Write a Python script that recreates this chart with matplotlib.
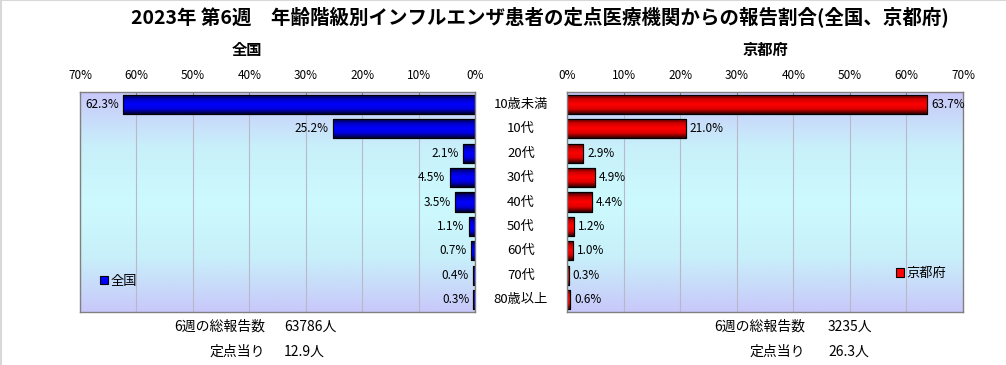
import matplotlib
matplotlib.use("Agg")
import matplotlib.pyplot as plt
import numpy as np
from matplotlib.colors import LinearSegmentedColormap
from matplotlib.lines import Line2D
from matplotlib.transforms import blended_transform_factory

plt.rcParams['font.family'] = ['Noto Sans CJK JP', 'DejaVu Sans']

ages = ['10歳未満', '10代', '20代', '30代', '40代', '50代', '60代', '70代', '80歳以上']
zenkoku = [62.3, 25.2, 2.1, 4.5, 3.5, 1.1, 0.7, 0.4, 0.3]
kyoto = [63.7, 21.0, 2.9, 4.9, 4.4, 1.2, 1.0, 0.3, 0.6]
xticks = [0, 10, 20, 30, 40, 50, 60, 70]
summary_labels = ['6週の総報告数', '定点当り']
zenkoku_summary = ['63786人', '12.9人']
kyoto_summary = ['3235人', '26.3人']

W, H = 1006, 365
fig = plt.figure(figsize=(W / 100, H / 100), dpi=100)
fig.patch.set_facecolor('white')

bg_cmap = LinearSegmentedColormap.from_list('bg', ['#c8c8fa', '#c8f0fa', '#ccfafe', '#c8f0fa', '#c8c8fa'])
blue_cmap = LinearSegmentedColormap.from_list('b', ['#000020', '#0000c0', '#0000ff', '#0000e0', '#000030'])
red_cmap = LinearSegmentedColormap.from_list('r', ['#300000', '#d00000', '#ff0000', '#e00000', '#300000'])


def panel(rect, values, cmap, face, name, invert, leg_xy):
    ax = fig.add_axes(rect)
    y = np.arange(len(ages))
    ax.imshow(np.linspace(0, 1, 256).reshape(-1, 1), cmap=bg_cmap, aspect='auto',
              extent=[0, 1, 0, 1], transform=ax.transAxes, zorder=0.1)
    bars = ax.barh(y, values, height=0.78, color=face, edgecolor='black', linewidth=0.8, zorder=2, label=name)
    grad = np.linspace(0, 1, 64).reshape(-1, 1)
    for p in bars:
        im = ax.imshow(grad, cmap=cmap, aspect='auto', zorder=2.2,
                       extent=[p.get_x(), p.get_x() + p.get_width(), p.get_y() + p.get_height(), p.get_y()])
        im.set_clip_path(p)
    ax.barh(y, values, height=0.78, fill=False, edgecolor='black', linewidth=0.8, zorder=2.5)
    # value labels just beyond the bar end
    off = -3 if invert else 3
    for yi, v in zip(y, values):
        ax.annotate(f'{v:.1f}%', (v, yi), xytext=(off, 0), textcoords='offset points',
                    ha='right' if invert else 'left', va='center', fontsize=8.5, zorder=3)
    ax.set_xlim(0, 70)
    ax.set_ylim(len(ages) - 0.5, -0.5)
    if invert:
        ax.invert_xaxis()
    ax.set_xticks(xticks)
    ax.set_xticklabels([f'{t}%' for t in xticks])
    ax.xaxis.tick_top()
    ax.tick_params(axis='x', direction='in', length=3, pad=7, labelsize=8.5, color='#808080')
    ax.set_yticks([])
    ax.grid(axis='x', color='#b8b8c8', linewidth=0.8)
    ax.set_axisbelow(True)
    for s in ax.spines.values():
        s.set_color('#808080')
        s.set_linewidth(1)
    ax.legend(handles=[bars], loc='center left', bbox_to_anchor=leg_xy, frameon=False,
              handlelength=0.6, handleheight=0.6, handletextpad=0.2, fontsize=9.5,
              borderpad=0, borderaxespad=0)
    return ax


axb = (365 - 312) / H
axh = 220 / H
ax1 = panel([80 / W, axb, 395 / W, axh], zenkoku, blue_cmap, '#0000ff', '全国', True, (0.05, 0.14))
ax2 = panel([567 / W, axb, 396 / W, axh], kyoto, red_cmap, '#ff0000', '京都府', False, (0.83, 0.175))

# age labels between the two panels
tr = blended_transform_factory(fig.transFigure, ax1.transData)
for i, a in enumerate(ages):
    fig.text(521 / W, i, a, transform=tr, ha='center', va='center', fontsize=9.5)

fig.text(540 / W, 1 - 17 / H,
         '2023年 第6週　年齢階級別インフルエンザ患者の定点医療機関からの報告割合(全国、京都府)',
         ha='center', va='center', fontsize=14, fontweight='bold')
fig.text(247 / W, 1 - 50 / H, '全国', ha='center', va='center', fontsize=11, fontweight='bold')
fig.text(765 / W, 1 - 50 / H, '京都府', ha='center', va='center', fontsize=11, fontweight='bold')

for i, lab in enumerate(summary_labels):
    yy = 1 - (327 + 25 * i) / H
    fig.text(265 / W, yy, lab, ha='right', va='center', fontsize=10)
    fig.text(284 / W, yy, zenkoku_summary[i], ha='left', va='center', fontsize=10)
    fig.text(805 / W, yy, lab, ha='right', va='center', fontsize=10)
    fig.text(828 / W, yy, kyoto_summary[i], ha='left', va='center', fontsize=10)

# thin frame on the left and top edges
fig.add_artist(Line2D([0.001, 0.001], [0, 1], transform=fig.transFigure, color='#d8d8d8', linewidth=1.5))
fig.add_artist(Line2D([0, 1], [0.999, 0.999], transform=fig.transFigure, color='#d8d8d8', linewidth=1.5))

fig.savefig('out.png', dpi=100, facecolor='white')
